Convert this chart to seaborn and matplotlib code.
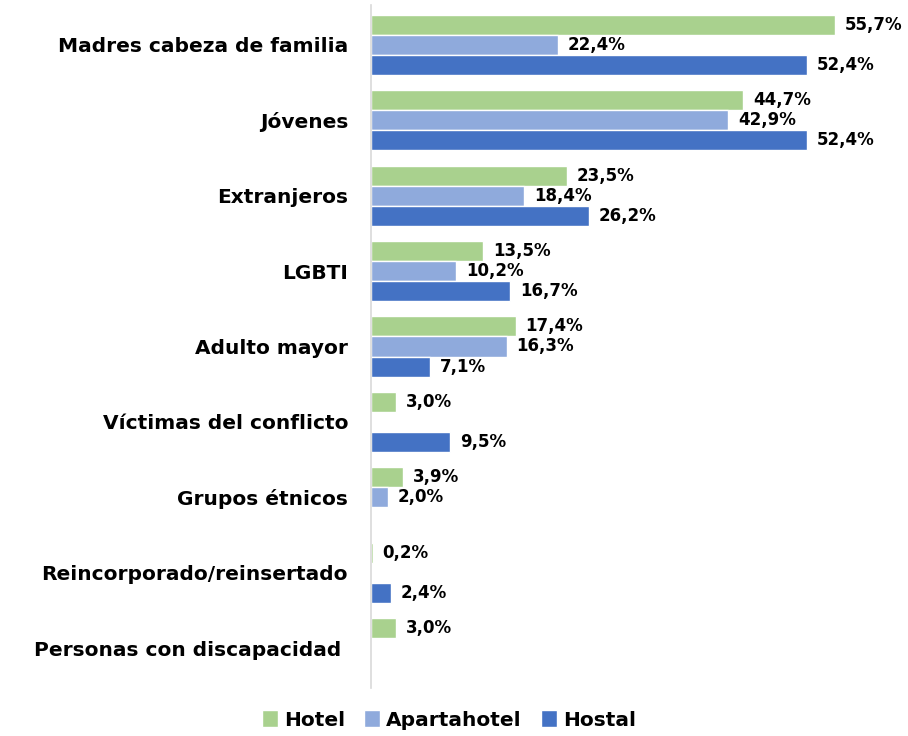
import numpy as np
import pandas as pd
import matplotlib
matplotlib.use("Agg")
import matplotlib.pyplot as plt
import seaborn as sns

categories = [
    "Madres cabeza de familia",
    "Jóvenes",
    "Extranjeros",
    "LGBTI",
    "Adulto mayor",
    "Víctimas del conflicto",
    "Grupos étnicos",
    "Reincorporado/reinsertado",
    "Personas con discapacidad ",
]
series = ["Hotel", "Apartahotel", "Hostal"]
hotel = [55.7, 44.7, 23.5, 13.5, 17.4, 3.0, 3.9, 0.2, 3.0]
apartahotel = [22.4, 42.9, 18.4, 10.2, 16.3, np.nan, 2.0, np.nan, np.nan]
hostal = [52.4, 52.4, 26.2, 16.7, 7.1, 9.5, np.nan, 2.4, np.nan]
colors = ["#A9D18E", "#8FAADC", "#4472C4"]

df = pd.DataFrame({
    "Categoría": categories * 3,
    "Tipo": [s for s in series for _ in categories],
    "Valor": hotel + apartahotel + hostal,
})

sns.set_theme(style="white")
plt.rcParams["font.family"] = ["DejaVu Sans"]
plt.rcParams["font.weight"] = "bold"
plt.rcParams["text.color"] = "black"
plt.rcParams["ytick.color"] = "black"

fig = plt.figure(figsize=(9.08, 7.36), dpi=100)
ax = fig.add_axes([371 / 908, 1 - 688 / 736, 1 - 371 / 908, (688 - 5) / 736])

sns.barplot(
    data=df, y="Categoría", x="Valor", hue="Tipo", order=categories,
    hue_order=series, palette=colors, orient="h", width=0.8,
    edgecolor="white", linewidth=1.0, saturation=1, ax=ax, legend=True,
)

for cont in ax.containers:
    labels = ["" if np.isnan(v) else f"{v:.1f}%".replace(".", ",") for v in cont.datavalues]
    ax.bar_label(cont, labels=labels, padding=7, fontsize=12, fontweight="bold", color="black")

ax.set_xlim(0, (908 - 371) / 8.33)
ax.set_ylim(len(categories) - 0.47, -0.53)
ax.set_xlabel("")
ax.set_ylabel("")
ax.set_xticks([])
ax.tick_params(axis="y", length=0, pad=16.5, labelsize=14.5, labelcolor="black")
for t in ax.get_yticklabels():
    t.set_fontweight("bold")
for side in ["top", "right", "bottom"]:
    ax.spines[side].set_visible(False)
ax.spines["left"].set_color("#D9D9D9")
ax.spines["left"].set_linewidth(1.2)

handles, labels = ax.get_legend_handles_labels()
ax.legend_.remove()
fig.legend(
    handles, labels, loc="center", bbox_to_anchor=(449 / 908, 1 - 720 / 736),
    ncol=3, frameon=False, handlelength=0.8, handleheight=0.9,
    handletextpad=0.3, columnspacing=0.95, prop={"weight": "bold", "size": 14.5},
)

fig.savefig("out.png", dpi=100)
